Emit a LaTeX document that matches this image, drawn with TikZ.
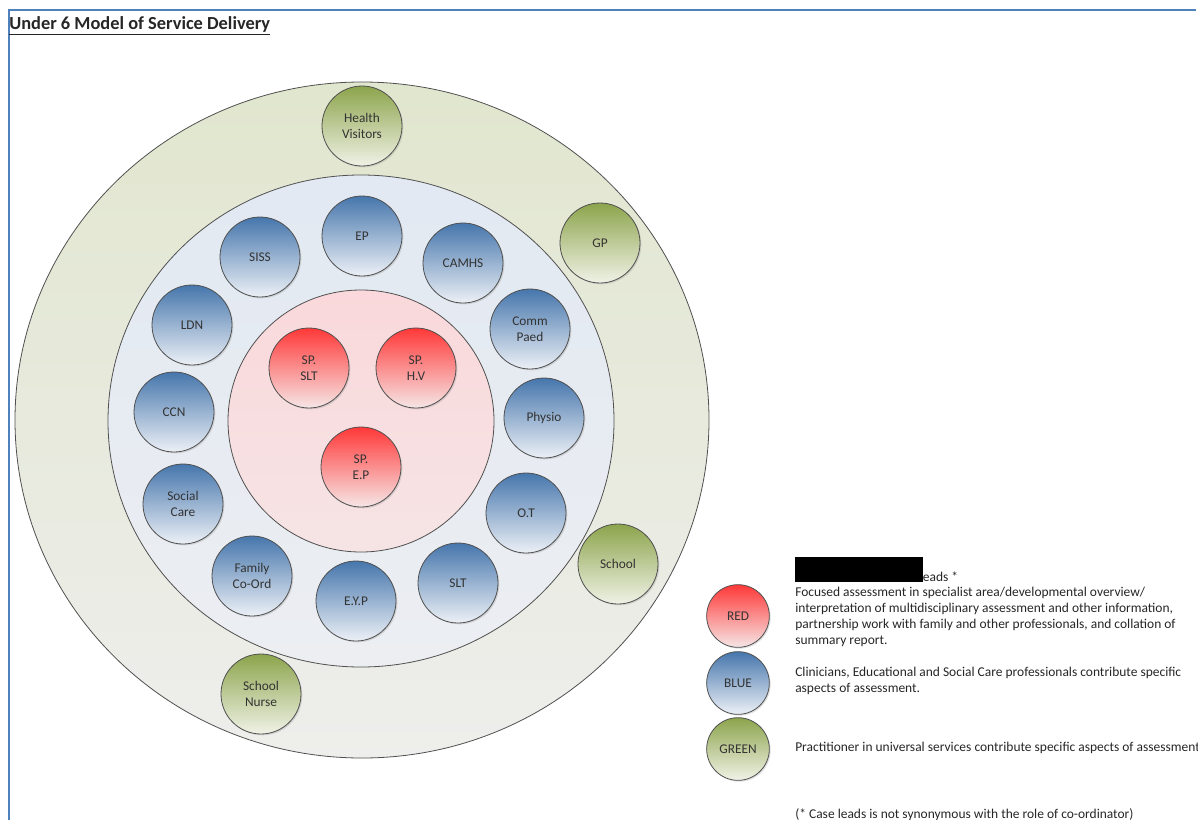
\documentclass[tikz,border=0pt]{standalone}
\usepackage{fontspec}
\setmainfont{Carlito}
\usepackage{tikz}
\usetikzlibrary{shadows}

\definecolor{frameblue}{RGB}{79,129,189}
\definecolor{edgegrey}{RGB}{80,80,80}
\definecolor{bluetop}{RGB}{70,118,172}
\definecolor{bluebot}{RGB}{236,240,246}
\definecolor{redtop}{RGB}{255,56,56}
\definecolor{redbot}{RGB}{246,230,230}
\definecolor{greentop}{RGB}{140,164,76}
\definecolor{greenbot}{RGB}{240,242,230}

\tikzset{
  disc/.style={circle, draw=edgegrey, line width=0.6pt, minimum size=60pt, inner sep=0pt,
    align=center, font=\fontsize{10}{12}\selectfont, text=black!80,
    drop shadow={shadow xshift=1pt, shadow yshift=-1pt, opacity=0.25}},
  bluedisc/.style={disc, top color=bluetop, bottom color=bluebot},
  reddisc/.style={disc, top color=redtop, bottom color=redbot},
  greendisc/.style={disc, top color=greentop, bottom color=greenbot},
  keydisc/.style={minimum size=47pt},
  ring/.style={draw=edgegrey, line width=0.6pt},
  keytext/.style={anchor=west, align=left, inner sep=0pt, font=\fontsize{10.1}{12}\selectfont, text=black!85}
}

\begin{document}
\begin{tikzpicture}[x=0.75pt,y=0.75pt,yscale=-1,xscale=1]
\useasboundingbox (0,0) rectangle (1198,820);

% frame
\draw [frameblue, line width=1.2pt] (9,820) -- (9,10) -- (1196,10) ;

% title
\node (title) [anchor=base west, inner sep=0pt, font=\fontsize{13.8}{16}\selectfont\bfseries, text=black!85] at (9,30) {\underline{Under 6 Model of Service Delivery}};

% rings
\draw [ring, top color={rgb,255:red,225;green,230;blue,206}, bottom color={rgb,255:red,238;green,238;blue,236}] (362,420) ellipse (347 and 338) ;
\draw [ring, top color={rgb,255:red,226;green,233;blue,242}, bottom color={rgb,255:red,236;green,238;blue,242}] (361,421) ellipse (253 and 246) ;
\draw [ring, top color={rgb,255:red,250;green,216;blue,219}, bottom color={rgb,255:red,246;green,228;blue,229}] (361,421) ellipse (133 and 131) ;

% universal services
\node (hv) [greendisc] at (362,126) {Health\\Visitors};
\node (gp) [greendisc] at (600,243) {GP};
\node (school) [greendisc] at (618,564) {School};
\node (snurse) [greendisc] at (261,694) {School\\Nurse};

% specialist services
\node (ep) [bluedisc] at (362,236) {EP};
\node (siss) [bluedisc] at (260,257) {SISS};
\node (camhs) [bluedisc] at (463,263) {CAMHS};
\node (ldn) [bluedisc] at (192,325) {LDN};
\node (cpaed) [bluedisc] at (530,329) {Comm\\Paed};
\node (ccn) [bluedisc] at (174,412) {CCN};
\node (physio) [bluedisc] at (544,418) {Physio};
\node (social) [bluedisc] at (183,504) {Social\\Care};
\node (ot) [bluedisc] at (526,513) {O.T};
\node (famco) [bluedisc] at (252,576) {Family\\Co-Ord};
\node (eyp) [bluedisc] at (356,601) {E.Y.P};
\node (slt) [bluedisc] at (458,583) {SLT};

% case leads
\node (spslt) [reddisc] at (309,368) {SP.\\SLT};
\node (sphv) [reddisc] at (416,368) {SP.\\H.V};
\node (spep) [reddisc] at (361,467) {SP.\\E.P};

% key
\node (keyred) [reddisc, keydisc] at (738,616) {RED};
\node (keyblue) [bluedisc, keydisc] at (738,683) {BLUE};
\node (keygreen) [greendisc, keydisc] at (738,749) {GREEN};

\node (leads) [keytext] at (917,577) {Leads *};
\fill [black] (795,557) rectangle (923,582) ;
\node (redtext) [keytext] at (795,617) {Focused assessment in specialist area/developmental overview/\\interpretation of multidisciplinary assessment and other information,\\partnership work with family and other professionals, and collation of\\summary report.};
\node (bluetext) [keytext] at (795,681) {Clinicians, Educational and Social Care professionals contribute specific\\aspects of assessment.};
\node (greentext) [keytext] at (795,748) {Practitioner in universal services contribute specific aspects of assessment};
\node (note) [keytext] at (795,815) {(* Case leads is not synonymous with the role of co-ordinator)};

\end{tikzpicture}
\end{document}
